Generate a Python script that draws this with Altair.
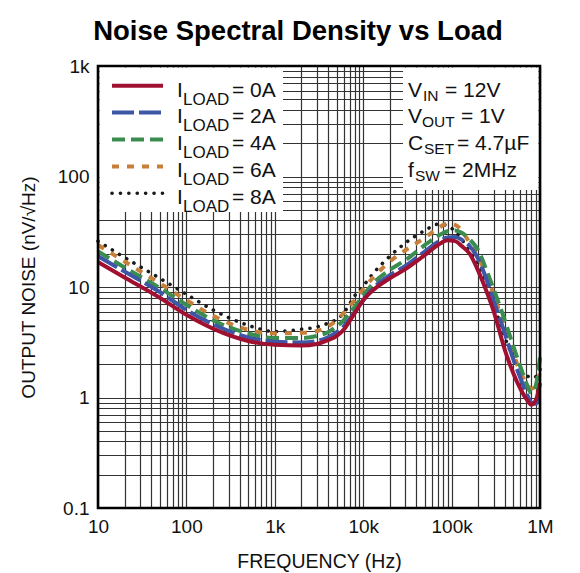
import altair as alt
import pandas as pd

# ---------------- data ----------------
freq_hz = [10, 20, 50, 100, 200, 500, 1000, 2000, 3000, 4000, 5000, 6000, 7000, 8000,
           10000, 13000, 20000, 30000, 50000, 70000, 90000, 110000, 130000, 160000,
           200000, 250000, 300000, 400000, 500000, 600000, 700000, 800000, 900000, 1000000]

noise_0a = [16.8, 12.2, 8.0, 5.6, 4.2, 3.25, 3.0, 2.95, 3.05, 3.3, 3.6, 4.1, 4.9, 5.8,
            7.6, 9.4, 12.0, 14.5, 19.5, 24, 26.5, 26, 23.5, 20,
            14, 9, 6, 2.7, 1.65, 1.2, 0.97, 0.86, 0.95, 1.35]
noise_2a = [19, 13.8, 9.0, 6.2, 4.6, 3.5, 3.2, 3.15, 3.25, 3.5, 3.9, 4.4, 5.1, 5.9,
            7.6, 9.8, 12.8, 15.5, 21, 25.5, 28, 28.3, 26.8, 23.5,
            18, 11.5, 7.5, 3.8, 2.2, 1.5, 1.1, 0.9, 0.88, 1.1]
noise_4a = [21, 15, 9.8, 6.9, 5.0, 3.8, 3.45, 3.45, 3.6, 3.9, 4.4, 5.0, 5.8, 6.6,
            8.4, 10.8, 14.3, 17.5, 24, 29, 32, 32.5, 31, 27,
            21.5, 14, 9.5, 5, 2.9, 1.9, 1.35, 1.1, 1.3, 2.3]
noise_6a = [24, 17, 10.8, 7.6, 5.5, 4.1, 3.8, 3.85, 4.0, 4.4, 5.0, 5.8, 6.7, 7.6,
            9.6, 12.2, 17, 21.5, 28, 34, 37.5, 36.5, 32.5, 25,
            18.5, 12.5, 8.5, 4.2, 2.5, 1.7, 1.35, 1.2, 1.3, 1.7]
noise_8a = [26, 18.5, 12, 8.6, 6.2, 4.5, 3.95, 4.15, 4.35, 4.7, 5.1, 5.8, 7.0, 8.3,
            10.2, 13.3, 19, 25, 32.5, 37, 36, 31.5, 27, 21,
            16, 10.5, 7, 3.5, 2.3, 1.8, 1.6, 1.5, 1.55, 1.8]

series_names = ["0A", "2A", "4A", "6A", "8A"]
legend_main = "I"
legend_sub = "LOAD"
legend_rest = ["= 0A", "= 2A", "= 4A", "= 6A", "= 8A"]

cond_main = ["V", "V", "C", "f"]
cond_sub = ["IN", "OUT", "SET", "SW"]
cond_rest = ["= 12V", "= 1V", "= 4.7µF", "= 2MHz"]

x_tick_values = [10, 100, 1000, 10000, 100000, 1000000]
x_tick_labels = ["10", "100", "1k", "10k", "100k", "1M"]
y_tick_values = [0.1, 1, 10, 100, 1000]
y_tick_labels = ["0.1", "1", "10", "100", "1k"]

title_text = "Noise Spectral Density vs Load"
x_title = "FREQUENCY (Hz)"
y_title = "OUTPUT NOISE (nV/√Hz)"

# ---------------- layout / style ----------------
FONT = "Liberation Sans, Arial, sans-serif"
TXT = "#111111"
W = H = 442

styles = {
    "0A": dict(color="#a01030", strokeWidth=4),
    "2A": dict(color="#3d56a6", strokeWidth=4, strokeDash=[22, 5]),
    "4A": dict(color="#3a8d4f", strokeWidth=4, strokeDash=[13, 6]),
    "6A": dict(color="#c77f3a", strokeWidth=4, strokeDash=[7, 8]),
    "8A": dict(color="#1a1a1a", strokeWidth=3.6, strokeDash=[0.1, 8.3], strokeCap="round"),
}
draw_order = ["8A", "6A", "4A", "2A", "0A"]

rows = []
for name, vals in zip(series_names, [noise_0a, noise_2a, noise_4a, noise_6a, noise_8a]):
    for f, v in zip(freq_hz, vals):
        rows.append({"series": name, "freq": f, "noise": v})
df = pd.DataFrame(rows)


def grid_values(lo, hi):
    vals = []
    for e in range(lo, hi):
        for k in range(1, 10):
            vals.append(k * 10 ** e)
    vals.append(10 ** hi)
    return vals


def label_expr(values, labels):
    s = "".join(f"datum.value == {v} ? '{l}' : " for v, l in zip(values, labels))
    return s + "''"


x_axis = alt.Axis(values=grid_values(1, 6), labelExpr=label_expr(x_tick_values, x_tick_labels),
                  grid=True, gridColor="#333333", gridWidth=1.2, ticks=False, domain=False,
                  labelFont=FONT, labelFontSize=19, labelColor=TXT, labelPadding=9,
                  labelFlush=False, labelOverlap=False, labelBound=False,
                  title=x_title, titleFont=FONT, titleFontSize=19.5, titleFontWeight="normal",
                  titleColor=TXT, titlePadding=16)
y_axis = alt.Axis(values=grid_values(-1, 3), labelExpr=label_expr(y_tick_values, y_tick_labels),
                  grid=True, gridColor="#333333", gridWidth=1.2, ticks=False, domain=False,
                  labelFont=FONT, labelFontSize=19, labelColor=TXT, labelPadding=9,
                  labelFlush=False, labelOverlap=False, labelBound=False,
                  title=y_title, titleFont=FONT, titleFontSize=19, titleFontWeight="normal",
                  titleColor=TXT, titlePadding=19)

base = alt.Chart(df).encode(
    x=alt.X("freq:Q", scale=alt.Scale(type="log", domain=[10, 1000000], nice=False), axis=x_axis),
    y=alt.Y("noise:Q", scale=alt.Scale(type="log", domain=[0.1, 1000], nice=False), axis=y_axis),
)

one = pd.DataFrame({"k": [0]})
layers = []

# white boxes behind legend and conditions
layers.append(alt.Chart(one).mark_rect(fill="white").encode(
    x=alt.value(1.5), x2=alt.value(185), y=alt.value(1.5), y2=alt.value(146)))
layers.append(alt.Chart(one).mark_rect(fill="white").encode(
    x=alt.value(305), x2=alt.value(W - 1.5), y=alt.value(1.5), y2=alt.value(124)))

# data lines
for s in draw_order:
    layers.append(base.transform_filter(alt.datum.series == s)
                  .mark_line(interpolate="monotone", **styles[s]))

# legend
for i, s in enumerate(series_names):
    ly = 19.7 + i * 26.9
    ty = 30.7 + i * 26.7
    layers.append(alt.Chart(one).mark_rule(**styles[s]).encode(
        x=alt.value(14), x2=alt.value(65), y=alt.value(ly)))
    d = pd.DataFrame({"t": [legend_main], "s": [legend_sub], "r": [legend_rest[i]]})
    layers.append(alt.Chart(d).mark_text(font=FONT, fontSize=21, align="left", baseline="alphabetic",
                                         color=TXT).encode(x=alt.value(79), y=alt.value(ty), text="t:N"))
    layers.append(alt.Chart(d).mark_text(font=FONT, fontSize=17, align="left", baseline="alphabetic",
                                         color=TXT).encode(x=alt.value(85), y=alt.value(ty + 8), text="s:N"))
    layers.append(alt.Chart(d).mark_text(font=FONT, fontSize=21, align="left", baseline="alphabetic",
                                         color=TXT).encode(x=alt.value(134), y=alt.value(ty), text="r:N"))

# conditions block
sub_x = [325, 324, 326, 317]
rest_x = [347, 363, 359, 346]
for i in range(4):
    ty = 30.7 + i * 26.7
    d = pd.DataFrame({"t": [cond_main[i]], "s": [cond_sub[i]], "r": [cond_rest[i]]})
    layers.append(alt.Chart(d).mark_text(font=FONT, fontSize=21, align="left", baseline="alphabetic",
                                         color=TXT).encode(x=alt.value(310), y=alt.value(ty), text="t:N"))
    layers.append(alt.Chart(d).mark_text(font=FONT, fontSize=15.5, align="left", baseline="alphabetic",
                                         color=TXT).encode(x=alt.value(sub_x[i]),
                                                           y=alt.value(ty + 4), text="s:N"))
    layers.append(alt.Chart(d).mark_text(font=FONT, fontSize=21, align="left", baseline="alphabetic",
                                         color=TXT).encode(x=alt.value(rest_x[i]), y=alt.value(ty), text="r:N"))

# frame
layers.append(alt.Chart(one).mark_rect(filled=False, stroke="black", strokeWidth=2.6).encode(
    x=alt.value(0), x2=alt.value(W), y=alt.value(0), y2=alt.value(H)))

chart = alt.layer(*layers).properties(
    width=W, height=H,
    title=alt.TitleParams(title_text, font=FONT, fontSize=27.5, fontWeight="bold", color="#000000",
                          anchor="middle", dx=-21, offset=12),
    autosize=alt.AutoSizeParams(type="none"),
    padding={"left": 90, "top": 58, "right": 20, "bottom": 65},
).configure_view(stroke=None)

chart.save("out.html", embed_options={"renderer": "svg", "actions": False})
